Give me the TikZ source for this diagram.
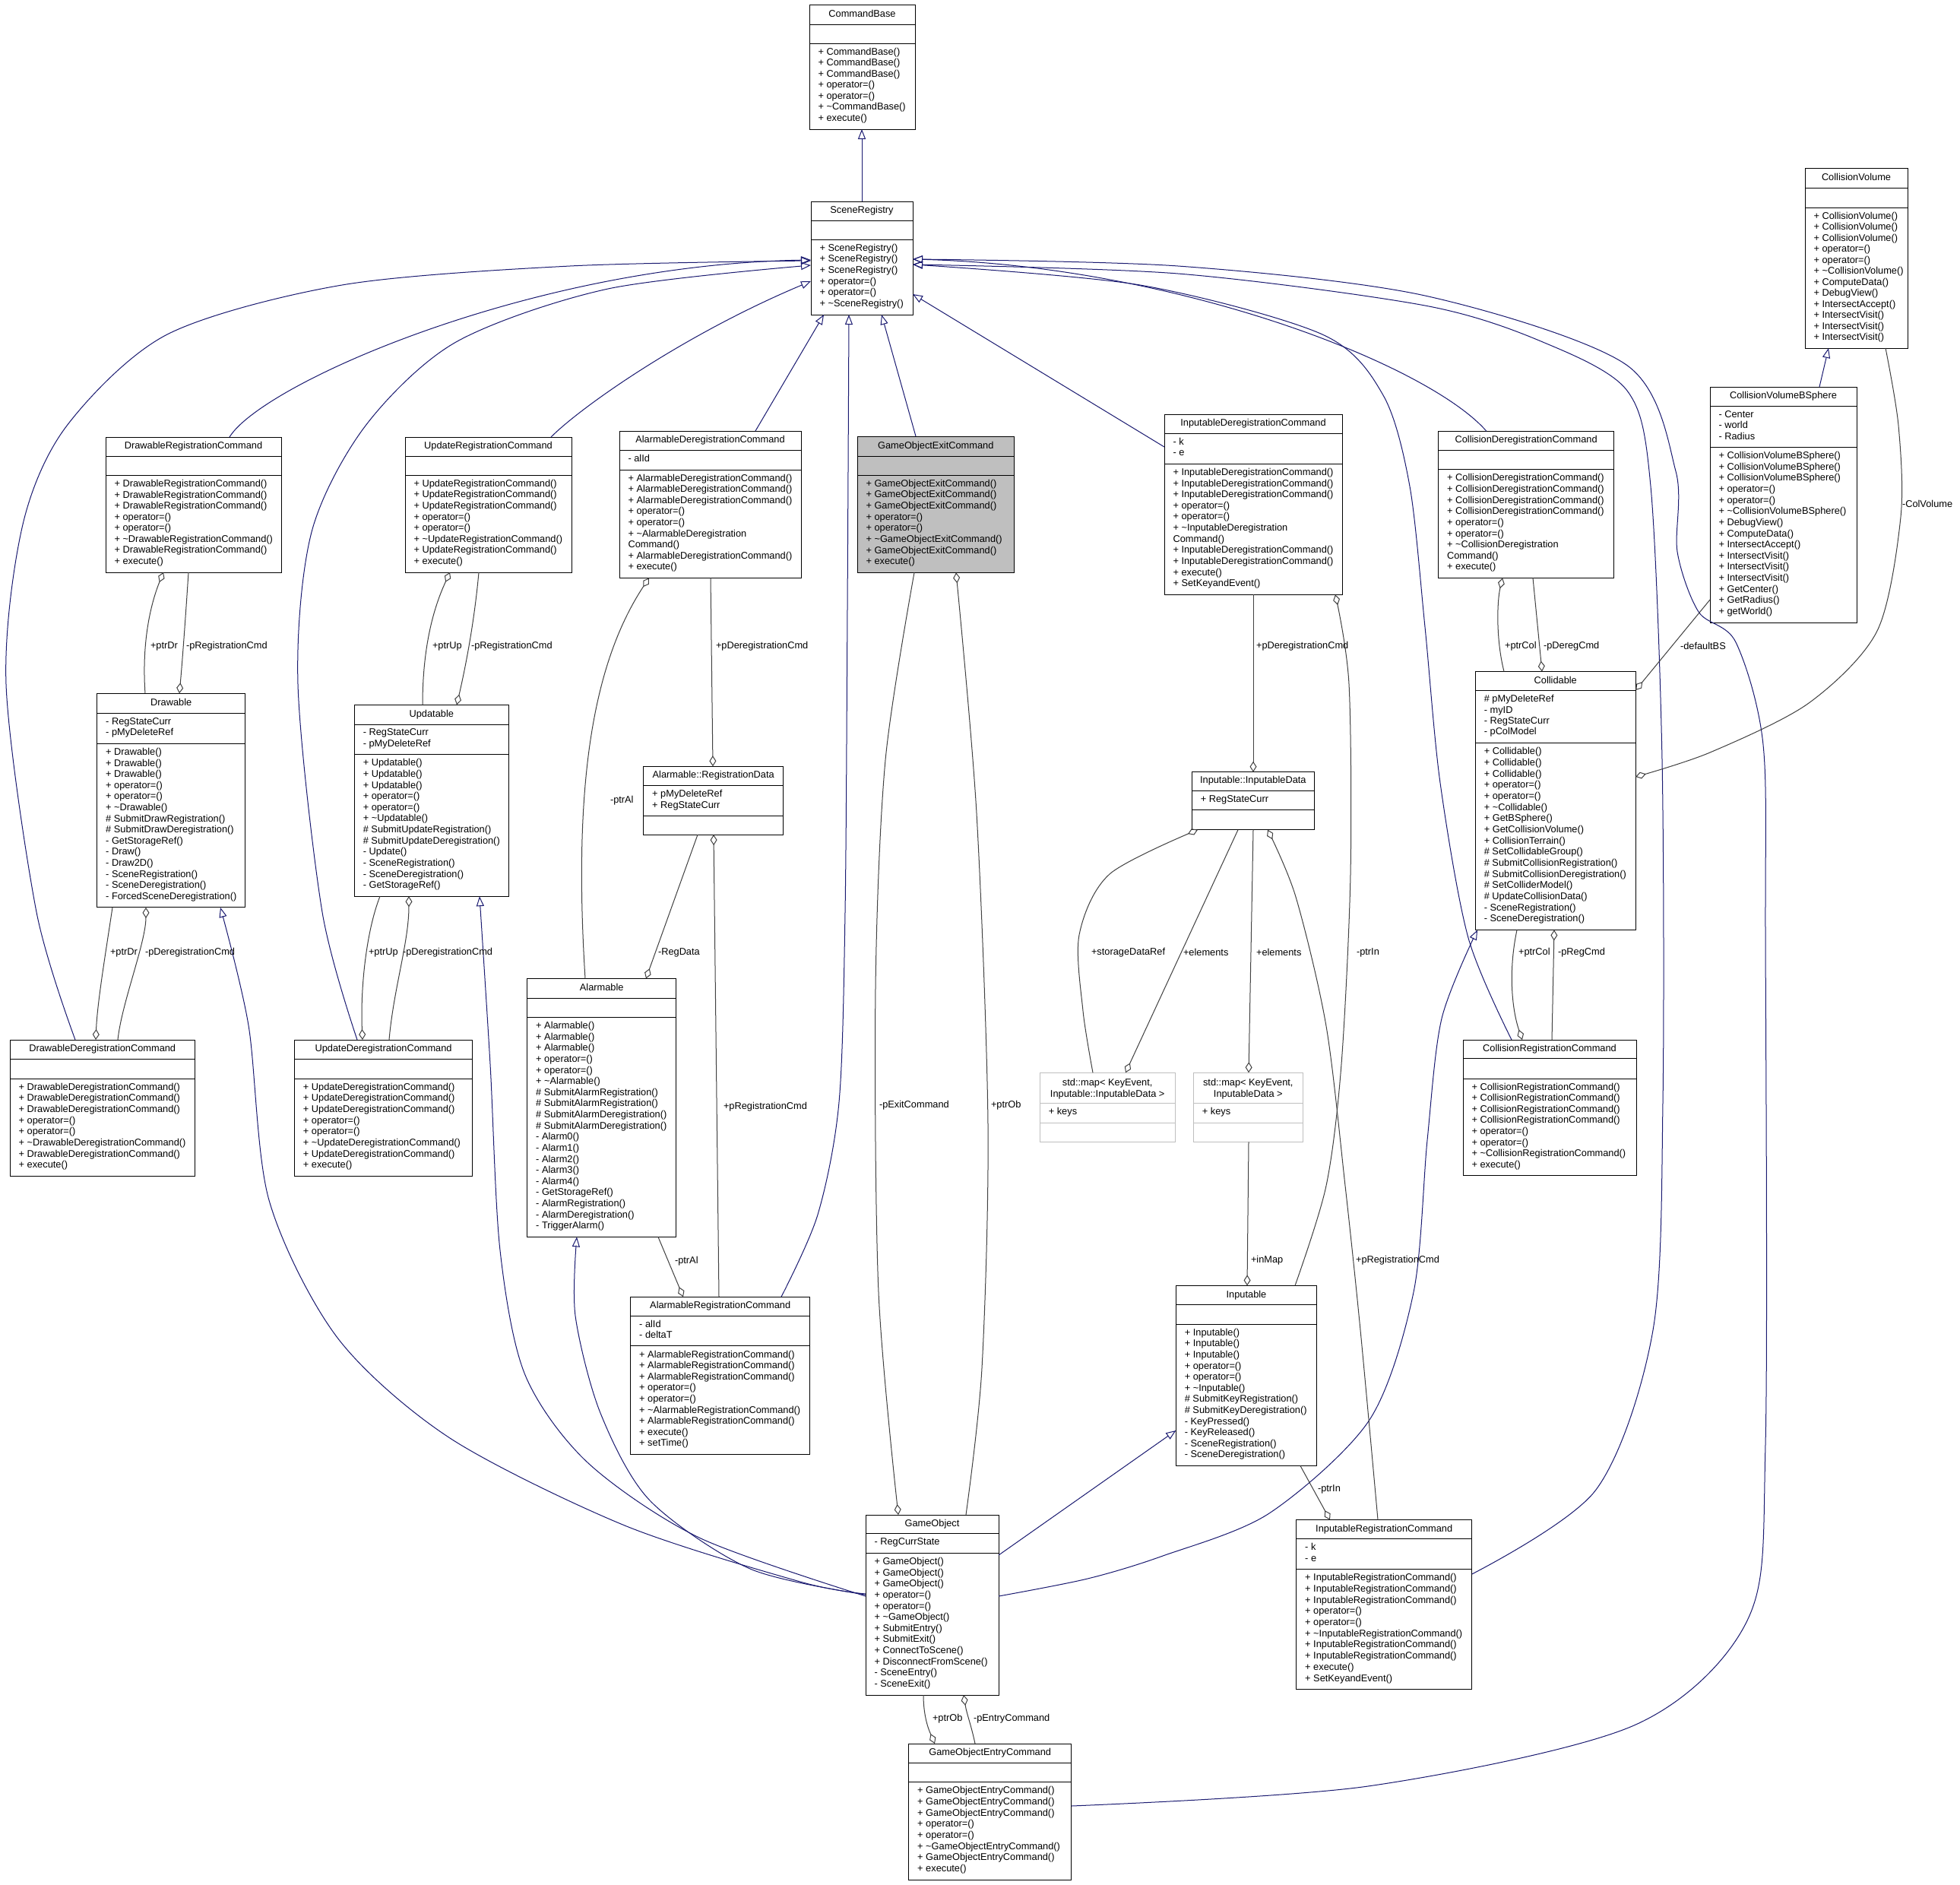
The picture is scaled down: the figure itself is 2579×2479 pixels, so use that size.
\documentclass[tikz,border=0pt]{standalone}
\usepackage{fontspec}
\setmainfont{Liberation Sans}
\usetikzlibrary{arrows.meta}
\definecolor{navyedge}{RGB}{25,25,112}
\definecolor{grayedge}{RGB}{64,64,64}
\definecolor{greyfill}{RGB}{191,191,191}
\definecolor{mapline}{RGB}{191,191,191}
\tikzset{
 txt/.style={inner sep=0pt,outer sep=0pt,font=\fontsize{12.8}{14}\selectfont},
 clsbox/.style={draw=black,line width=0.9pt,fill=white,inner sep=0pt,outer sep=0pt},
 sepline/.style={draw=black,line width=0.9pt},
 inh/.style={draw=navyedge,line width=1pt,-{Triangle[open,length=13pt,width=10pt]}},
 agg/.style={draw=grayedge,line width=1pt,-{Diamond[open,length=14pt,width=9pt]}},
 lbl/.style={txt,anchor=west},
}
\newcommand\umlclass[8][]{%
 \xdef\cname{#2}\xdef\cxa{#3}\xdef\cya{#4}\xdef\cxb{#5}\xdef\cyb{#6}\xdef\cts{#7}\xdef\cas{#8}%
 \node[clsbox,#1,minimum width={(#5-#3)*1pt},minimum height={(#6-#4)*1pt},anchor=north west] (#2) at (#3,#4) {};%
 \draw[sepline,#1] (#3,#7) -- (#5,#7) (#3,#8) -- (#5,#8);%
}
\newcommand\umltitle[1]{\node[txt,anchor=base] (\cname-t) at ({(\cxa+\cxb)/2},{(\cya+\cts)/2+3}) {#1};}
\newcommand\umlitems[5]{%
 \pgfmathsetmacro\umlLS{(#3-#2-11.1)/#4}%
 \pgfmathsetmacro\umlBZ{#2+4.5+0.73*\umlLS}%
 \foreach \itm [count=\k from 0] in {#5}{%
  \node[txt,anchor=base west] (\cname-#1\k) at ({\cxa+11.5},{\umlBZ+\k*\umlLS}) {\ignorespaces\itm};}%
}
\newcommand\umlattrs[2]{\umlitems{a}{\cts}{\cas}{#1}{#2}}
\newcommand\umlmeths[2]{\umlitems{m}{\cas}{\cyb}{#1}{#2}}
\newcommand\tl{\textasciitilde}
\begin{document}
\begin{tikzpicture}[x=1pt,y=-1pt]
\fill[white] (0,0) rectangle (2579,2479);
\useasboundingbox (0,0) rectangle (2579,2479);

% ---------------- classes ----------------
\umlclass{CB}{1065}{6}{1204}{170}{32}{57}
\umltitle{CommandBase}
\umlmeths{7}{+ CommandBase(),+ CommandBase(),+ CommandBase(),+ operator=(),+ operator=(),+ \tl CommandBase(),+ execute()}

\umlclass{SR}{1067}{265}{1201}{414}{290}{315}
\umltitle{SceneRegistry}
\umlmeths{6}{+ SceneRegistry(),+ SceneRegistry(),+ SceneRegistry(),+ operator=(),+ operator=(),+ \tl SceneRegistry()}

\umlclass{CV}{2375}{221}{2510}{458}{247}{273}
\umltitle{CollisionVolume}
\umlmeths{12}{+ CollisionVolume(),+ CollisionVolume(),+ CollisionVolume(),+ operator=(),+ operator=(),+ \tl CollisionVolume(),+ ComputeData(),+ DebugView(),+ IntersectAccept(),+ IntersectVisit(),+ IntersectVisit(),+ IntersectVisit()}

\umlclass{CVB}{2250}{509}{2443}{819}{534}{588.5}
\umltitle{CollisionVolumeBSphere}
\umlattrs{3}{- Center,- world,- Radius}
\umlmeths{15}{+ CollisionVolumeBSphere(),+ CollisionVolumeBSphere(),+ CollisionVolumeBSphere(),+ operator=(),+ operator=(),+ \tl CollisionVolumeBSphere(),+ DebugView(),+ ComputeData(),+ IntersectAccept(),+ IntersectVisit(),+ IntersectVisit(),+ IntersectVisit(),+ GetCenter(),+ GetRadius(),+ getWorld()}

\umlclass{DRC}{139}{575}{370}{753}{600}{625.3}
\umltitle{DrawableRegistrationCommand}
\umlmeths{8}{+ DrawableRegistrationCommand(),+ DrawableRegistrationCommand(),+ DrawableRegistrationCommand(),+ operator=(),+ operator=(),+ \tl DrawableRegistrationCommand(),+ DrawableRegistrationCommand(),+ execute()}

\umlclass{URC}{533}{575}{752}{753}{600}{625}
\umltitle{UpdateRegistrationCommand}
\umlmeths{8}{+ UpdateRegistrationCommand(),+ UpdateRegistrationCommand(),+ UpdateRegistrationCommand(),+ operator=(),+ operator=(),+ \tl UpdateRegistrationCommand(),+ UpdateRegistrationCommand(),+ execute()}

\umlclass{ADC}{815}{567}{1054}{760.4}{592}{618}
\umltitle{AlarmableDeregistrationCommand}
\umlattrs{1}{- alId}
\umlmeths{9}{+ AlarmableDeregistrationCommand(),+ AlarmableDeregistrationCommand(),+ AlarmableDeregistrationCommand(),+ operator=(),+ operator=(),+ \tl AlarmableDeregistration,Command(),+ AlarmableDeregistrationCommand(),+ execute()}

\umlclass[fill=greyfill]{GOEC}{1128}{574}{1334.5}{753.3}{600}{625}
\umltitle{GameObjectExitCommand}
\umlmeths{8}{+ GameObjectExitCommand(),+ GameObjectExitCommand(),+ GameObjectExitCommand(),+ operator=(),+ operator=(),+ \tl GameObjectExitCommand(),+ GameObjectExitCommand(),+ execute()}

\umlclass{IDC}{1532}{545}{1766}{782.3}{570.3}{610.3}
\umltitle{InputableDeregistrationCommand}
\umlattrs{2}{- k,- e}
\umlmeths{11}{+ InputableDeregistrationCommand(),+ InputableDeregistrationCommand(),+ InputableDeregistrationCommand(),+ operator=(),+ operator=(),+ \tl InputableDeregistration,Command(),+ InputableDeregistrationCommand(),+ InputableDeregistrationCommand(),+ execute(),+ SetKeyandEvent()}

\umlclass{CDC}{1892.6}{567.4}{2123.6}{760.5}{592.5}{617.6}
\umltitle{CollisionDeregistrationCommand}
\umlmeths{9}{+ CollisionDeregistrationCommand(),+ CollisionDeregistrationCommand(),+ CollisionDeregistrationCommand(),+ CollisionDeregistrationCommand(),+ operator=(),+ operator=(),+ \tl CollisionDeregistration,Command(),+ execute()}

\umlclass{DR}{127.7}{912.2}{322.7}{1193.9}{938}{978.4}
\umltitle{Drawable}
\umlattrs{2}{- RegStateCurr,- pMyDeleteRef}
\umlmeths{14}{+ Drawable(),+ Drawable(),+ Drawable(),+ operator=(),+ operator=(),+ \tl Drawable(),\# SubmitDrawRegistration(),\# SubmitDrawDeregistration(),- GetStorageRef(),- Draw(),- Draw2D(),- SceneRegistration(),- SceneDeregistration(),- ForcedSceneDeregistration()}

\umlclass{UP}{466.3}{927.3}{669.3}{1179.2}{953}{992.7}
\umltitle{Updatable}
\umlattrs{2}{- RegStateCurr,- pMyDeleteRef}
\umlmeths{12}{+ Updatable(),+ Updatable(),+ Updatable(),+ operator=(),+ operator=(),+ \tl Updatable(),\# SubmitUpdateRegistration(),\# SubmitUpdateDeregistration(),- Update(),- SceneRegistration(),- SceneDeregistration(),- GetStorageRef()}

\umlclass{RD}{846.7}{1008.2}{1030.7}{1098.1}{1033.6}{1073.5}
\umltitle{Alarmable::RegistrationData}
\umlattrs{2}{+ pMyDeleteRef,+ RegStateCurr}

\umlclass{ID}{1568.3}{1015.7}{1729.3}{1091.7}{1040}{1065.7}
\umltitle{Inputable::InputableData}
\umlattrs{1}{+ RegStateCurr}

\umlclass{COL}{1941.3}{883.5}{2152.2}{1223.5}{908.6}{977.4}
\umltitle{Collidable}
\umlattrs{4}{\# pMyDeleteRef,- myID,- RegStateCurr,- pColModel}
\umlmeths{16}{+ Collidable(),+ Collidable(),+ Collidable(),+ operator=(),+ operator=(),+ \tl Collidable(),+ GetBSphere(),+ GetCollisionVolume(),+ CollisionTerrain(),\# SetCollidableGroup(),\# SubmitCollisionRegistration(),\# SubmitCollisionDeregistration(),\# SetColliderModel(),\# UpdateCollisionData(),- SceneRegistration(),- SceneDeregistration()}

\umlclass{DDC}{13.2}{1368}{256.3}{1547.3}{1393}{1419}
\umltitle{DrawableDeregistrationCommand}
\umlmeths{8}{+ DrawableDeregistrationCommand(),+ DrawableDeregistrationCommand(),+ DrawableDeregistrationCommand(),+ operator=(),+ operator=(),+ \tl DrawableDeregistrationCommand(),+ DrawableDeregistrationCommand(),+ execute()}

\umlclass{UDC}{387.4}{1368}{621.8}{1547.3}{1393}{1419}
\umltitle{UpdateDeregistrationCommand}
\umlmeths{8}{+ UpdateDeregistrationCommand(),+ UpdateDeregistrationCommand(),+ UpdateDeregistrationCommand(),+ operator=(),+ operator=(),+ \tl UpdateDeregistrationCommand(),+ UpdateDeregistrationCommand(),+ execute()}

\umlclass{AL}{693.7}{1287.4}{889.7}{1627.4}{1313}{1338.4}
\umltitle{Alarmable}
\umlmeths{19}{+ Alarmable(),+ Alarmable(),+ Alarmable(),+ operator=(),+ operator=(),+ \tl Alarmable(),\# SubmitAlarmRegistration(),\# SubmitAlarmRegistration(),\# SubmitAlarmDeregistration(),\# SubmitAlarmDeregistration(),- Alarm0(),- Alarm1(),- Alarm2(),- Alarm3(),- Alarm4(),- GetStorageRef(),- AlarmRegistration(),- AlarmDeregistration(),- TriggerAlarm()}

\umlclass[draw=mapline]{M1}{1368.3}{1411.3}{1546.2}{1502.3}{1451.7}{1477.3}
\node[txt,anchor=base] (M1-t) at (1457.2,1428.5) {std::map< KeyEvent,};
\node[txt,anchor=base] (M1-t2) at (1457.2,1443.5) {Inputable::InputableData >};
\umlattrs{1}{+ keys}

\umlclass[draw=mapline]{M2}{1570.4}{1411.3}{1714.3}{1502.3}{1451.7}{1477.3}
\node[txt,anchor=base] (M2-t) at (1642.3,1428.5) {std::map< KeyEvent,};
\node[txt,anchor=base] (M2-t2) at (1642.3,1443.5) {InputableData >};
\umlattrs{1}{+ keys}

\umlclass{CRC}{1925}{1368}{2153}{1546.7}{1392.3}{1419}
\umltitle{CollisionRegistrationCommand}
\umlmeths{8}{+ CollisionRegistrationCommand(),+ CollisionRegistrationCommand(),+ CollisionRegistrationCommand(),+ CollisionRegistrationCommand(),+ operator=(),+ operator=(),+ \tl CollisionRegistrationCommand(),+ execute()}

\umlclass{ARC}{829.7}{1706.2}{1065.7}{1913.5}{1731}{1770.9}
\umltitle{AlarmableRegistrationCommand}
\umlattrs{2}{- alId,- deltaT}
\umlmeths{9}{+ AlarmableRegistrationCommand(),+ AlarmableRegistrationCommand(),+ AlarmableRegistrationCommand(),+ operator=(),+ operator=(),+ \tl AlarmableRegistrationCommand(),+ AlarmableRegistrationCommand(),+ execute(),+ setTime()}

\umlclass{IN}{1547.3}{1691.4}{1732.7}{1928.5}{1716.7}{1742}
\umltitle{Inputable}
\umlmeths{12}{+ Inputable(),+ Inputable(),+ Inputable(),+ operator=(),+ operator=(),+ \tl Inputable(),\# SubmitKeyRegistration(),\# SubmitKeyDeregistration(),- KeyPressed(),- KeyReleased(),- SceneRegistration(),- SceneDeregistration()}

\umlclass{GO}{1139}{1993}{1314}{2230}{2017.3}{2043.3}
\umltitle{GameObject}
\umlattrs{1}{- RegCurrState}
\umlmeths{12}{+ GameObject(),+ GameObject(),+ GameObject(),+ operator=(),+ operator=(),+ \tl GameObject(),+ SubmitEntry(),+ SubmitExit(),+ ConnectToScene(),+ DisconnectFromScene(),- SceneEntry(),- SceneExit()}

\umlclass{IRC}{1705.7}{1999.5}{1936.7}{2222.6}{2024.8}{2064.5}
\umltitle{InputableRegistrationCommand}
\umlattrs{2}{- k,- e}
\umlmeths{10}{+ InputableRegistrationCommand(),+ InputableRegistrationCommand(),+ InputableRegistrationCommand(),+ operator=(),+ operator=(),+ \tl InputableRegistrationCommand(),+ InputableRegistrationCommand(),+ InputableRegistrationCommand(),+ execute(),+ SetKeyandEvent()}

\umlclass{GOE}{1195.7}{2294}{1409.7}{2473}{2319}{2344.7}
\umltitle{GameObjectEntryCommand}
\umlmeths{8}{+ GameObjectEntryCommand(),+ GameObjectEntryCommand(),+ GameObjectEntryCommand(),+ operator=(),+ operator=(),+ \tl GameObjectEntryCommand(),+ GameObjectEntryCommand(),+ execute()}

% ---------------- inheritance ----------------
\draw[inh] (SR.north -| 1134,0) -- (CB.south -| 1134,0);
\draw[inh] (DRC.north -| 302,0) .. controls (345,505) and (700,348) .. (SR.west |- 0,342);
\draw[inh] plot[smooth] coordinates {(DDC.north -| 99,0) (48,1200) (8,900) (30,690) (88,560) (220,440) (450,375) (750,350) (SR.west |- 0,343)};
\draw[inh] (URC.north -| 725,0) .. controls (765,535) and (900,440) .. (SR.west |- 0,370);
\draw[inh] plot[smooth] coordinates {(UDC.north -| 470,0) (424,1200) (392,900) (410,700) (481,560) (600,450) (800,380) (SR.west |- 0,349)};
\draw[inh] (ADC.north -| 994,0) -- (SR.south -| 1084,0);
\draw[inh] plot[smooth] coordinates {(ARC.north -| 1028,0) (1076,1598) (1104,1450) (1112,1200) (1115,800) (SR.south -| 1117,0)};
\draw[inh] (GOEC.north -| 1205,0) -- (SR.south -| 1160,0);
\draw[inh] (IDC.west |- 0,588) -- (SR.east |- 0,387);
\draw[inh] (CDC.north -| 1956,0) .. controls (1880,480) and (1550,350) .. (SR.east |- 0,341);
\draw[inh] plot[smooth] coordinates {(CRC.north -| 1989,0) (1932,1234) (1895,1030) (1875,825) (1855,640) (1820,520) (1740,440) (1500,375) (SR.east |- 0,348)};
\draw[inh] plot[smooth] coordinates {(IRC.east |- 0,2071) (2100,1960) (2175,1750) (2188,1450) (2187,1000) (2172,640) (2141,514) (2030,450) (1875,402) (1550,360) (SR.east |- 0,348)};
\draw[inh] plot[smooth] coordinates {(GOE.east |- 0,2376) (1800,2350) (2150,2270) (2300,2130) (2323,1900) (2323,1234) (2320,980) (2284,845) (2235,805) (2207,726) (2205,620) (2140,480) (1875,389) (1550,350) (SR.east |- 0,341)};
\draw[inh] plot[smooth] coordinates {(GO.west |- 0,2097) (1053,2081) (822,2007) (592,1892) (444,1760) (354,1579) (327,1349) (DR.south -| 290,0)};
\draw[inh] plot[smooth] coordinates {(GO.west |- 0,2100) (920,2023) (773,1924) (691,1809) (658,1645) (645,1400) (UP.south -| 631,0)};
\draw[inh] plot[smooth] coordinates {(GO.west |- 0,2098) (987,2064) (855,1974) (790,1859) (757,1731) (AL.south -| 759,0)};
\draw[inh] (GO.east |- 0,2046) -- (IN.west |- 0,1882);
\draw[inh] plot[smooth] coordinates {(GO.east |- 0,2100) (1431,2077) (1530,2047) (1670,1991) (1802,1868) (1860,1700) (1878,1500) (1897,1340) (COL.south -| 1944,0)};
\draw[inh] (CVB.north -| 2394,0) -- (CV.south -| 2406,0);

% ---------------- aggregations ----------------
\draw[agg] (DR.north -| 191,0) .. controls (186,840) and (200,790) .. (DRC.south -| 215,0);
\draw[agg] (DRC.south -| 248,0) .. controls (245,800) and (240,870) .. (DR.north -| 236,0);
\draw[agg] (UP.north -| 556,0) .. controls (556,840) and (575,790) .. (URC.south -| 592,0);
\draw[agg] (URC.south -| 630,0) .. controls (624,820) and (612,880) .. (UP.north -| 601,0);
\draw[agg] (DR.south -| 148,0) .. controls (138,1260) and (128,1320) .. (DDC.north -| 126,0);
\draw[agg] (DDC.north -| 155,0) .. controls (160,1320) and (192,1240) .. (DR.south -| 192,0);
\draw[agg] (UP.south -| 500,0) .. controls (482,1225) and (474,1300) .. (UDC.north -| 477,0);
\draw[agg] (UDC.north -| 512,0) .. controls (518,1300) and (538,1240) .. (UP.south -| 538,0);
\draw[agg] (AL.north -| 770,0) .. controls (755,1050) and (775,880) .. (ADC.south -| 854,0);
\draw[agg] (ADC.south -| 935,0) -- (RD.north -| 938,0);
\draw[agg] (RD.south -| 918,0) -- (AL.north -| 850,0);
\draw[agg] (ARC.north -| 946,0) -- (RD.south -| 939,0);
\draw[agg] (AL.south -| 866,0) -- (ARC.north -| 899,0);
\draw[agg] plot[smooth] coordinates {(GOEC.south -| 1203,0) (1165,1000) (1152,1300) (1156,1700) (GO.north -| 1182,0)};
\draw[agg] plot[smooth] coordinates {(GO.north -| 1271,0) (1292,1800) (1300,1480) (1285,1070) (GOEC.south -| 1258,0)};
\draw[agg] (GO.south -| 1215,0) .. controls (1215,2262) and (1224,2280) .. (GOE.north -| 1230,0);
\draw[agg] (GOE.north -| 1283,0) .. controls (1278,2270) and (1272,2255) .. (GO.south -| 1268,0);
\draw[agg] (IDC.south -| 1649,0) -- (ID.north -| 1649,0);
\draw[agg] plot[smooth] coordinates {(IN.north -| 1704,0) (1745,1560) (1765,1400) (1777,1150) (1775,900) (IDC.south -| 1757,0)};
\draw[agg] plot[smooth] coordinates {(M1.north -| 1438,0) (1425,1330) (1420,1230) (1460,1150) (ID.south -| 1576,0)};
\draw[agg] (ID.south -| 1629,0) -- (M1.north -| 1481,0);
\draw[agg] (ID.south -| 1649,0) -- (M2.north -| 1643,0);
\draw[agg] (M2.south -| 1643,0) -- (IN.north -| 1641,0);
\draw[agg] plot[smooth] coordinates {(IRC.north -| 1813,0) (1790,1750) (1770,1560) (1745,1350) (1705,1180) (ID.south -| 1668,0)};
\draw[agg] (IN.south -| 1711,0) -- (IRC.north -| 1750,0);
\draw[agg] (COL.north -| 1979,0) .. controls (1968,840) and (1970,790) .. (CDC.south -| 1977,0);
\draw[agg] (CDC.south -| 2017,0) -- (COL.north -| 2029,0);
\draw[agg] (COL.south -| 1996,0) .. controls (1984,1280) and (1990,1330) .. (CRC.north -| 2003,0);
\draw[agg] (CRC.north -| 2042,0) -- (COL.south -| 2045,0);
\draw[agg] (CVB.west |- 0,789) -- (COL.east |- 0,908);
\draw[agg] plot[smooth] coordinates {(CV.south -| 2481,0) (2498,560) (2501,680) (2470,830) (2380,925) (2250,990) (COL.east |- 0,1022)};

% ---------------- labels ----------------
\node[lbl] (l1) at (198,850.6) {+ptrDr};
\node[lbl] (l2) at (245,850.6) {-pRegistrationCmd};
\node[lbl] (l3) at (569,850.6) {+ptrUp};
\node[lbl] (l4) at (620,850.6) {-pRegistrationCmd};
\node[lbl] (l5) at (942,850) {+pDeregistrationCmd};
\node[lbl] (l6) at (1653,850) {+pDeregistrationCmd};
\node[lbl] (l7) at (1980,850.4) {+ptrCol};
\node[lbl] (l8) at (2031,850.4) {-pDeregCmd};
\node[lbl] (l9) at (2211,850.4) {-defaultBS};
\node[lbl] (l10) at (2503,663) {-ColVolume};
\node[lbl] (l11) at (803,1053) {-ptrAl};
\node[lbl] (l12) at (145,1253) {+ptrDr};
\node[lbl] (l13) at (191,1253) {-pDeregistrationCmd};
\node[lbl] (l14) at (485,1253) {+ptrUp};
\node[lbl] (l15) at (530,1253) {-pDeregistrationCmd};
\node[lbl] (l16) at (866,1253) {-RegData};
\node[lbl] (l17) at (1436,1253) {+storageDataRef};
\node[lbl] (l18) at (1557,1253) {+elements};
\node[lbl] (l19) at (1653,1253) {+elements};
\node[lbl] (l20) at (1785,1253) {-ptrIn};
\node[lbl] (l21) at (1998,1253) {+ptrCol};
\node[lbl] (l22) at (2050,1253) {-pRegCmd};
\node[lbl] (l23) at (1157,1454) {-pExitCommand};
\node[lbl] (l24) at (1304,1454) {+ptrOb};
\node[lbl] (l25) at (952,1456) {+pRegistrationCmd};
\node[lbl] (l26) at (888,1659) {-ptrAl};
\node[lbl] (l27) at (1646,1658) {+inMap};
\node[lbl] (l28) at (1784,1658) {+pRegistrationCmd};
\node[lbl] (l29) at (1734,1959) {-ptrIn};
\node[lbl] (l30) at (1227,2261) {+ptrOb};
\node[lbl] (l31) at (1281,2261) {-pEntryCommand};
\end{tikzpicture}
\end{document}
